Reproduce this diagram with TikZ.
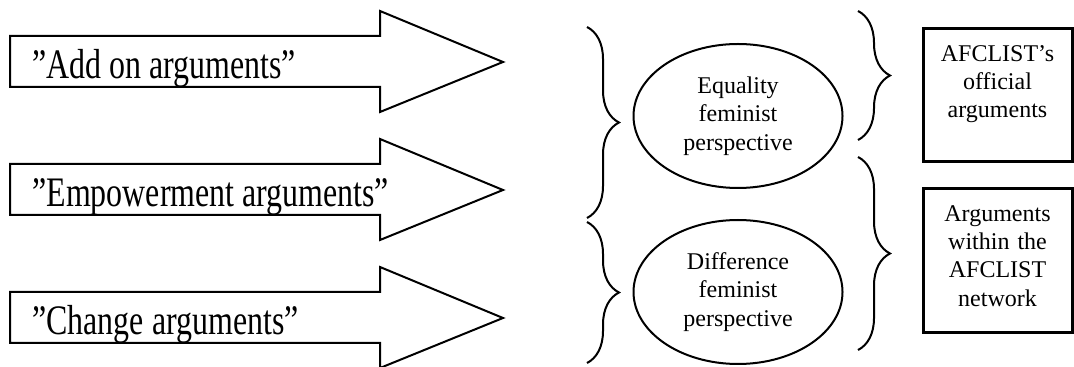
\documentclass[tikz,border=0pt]{standalone}
\usepackage{fontspec}
\setmainfont{Liberation Serif}
\newfontfamily\arrowfont[FakeStretch=0.76]{Liberation Serif}
\usetikzlibrary{shapes.geometric,decorations.pathreplacing}
\tikzset{
  arrowline/.style={draw, line width=1pt, line join=miter},
  arrowtext/.style={anchor=base west, inner sep=0pt, font=\arrowfont\fontsize{21}{25}\selectfont},
  view/.style={ellipse, draw, line width=1pt, minimum width=104.5pt, minimum height=72pt,
    inner sep=0pt, align=center, font=\fontsize{12}{14.3}\selectfont},
  argbox/.style={rectangle, draw, line width=1.5pt, anchor=north, inner sep=0pt,
    text width=74.5pt, align=center, text height=16.5pt, font=\fontsize{12}{14.1}\selectfont},
  brc/.style={decorate, decoration={brace, amplitude=16pt}, line width=1pt}
}

\begin{document}
\begin{tikzpicture}[x=0.5pt, y=-0.5pt]
        \useasboundingbox (0,0) rectangle (1074,367);

        % the three arrows
        \draw[arrowline] (10,36) -- (380,36) -- (380,11) -- (503,62) -- (380,112) -- (380,87) -- (10,87) -- cycle;
        \draw[arrowline] (10,164) -- (380,164) -- (380,139) -- (503,190) -- (380,240) -- (380,215) -- (10,215) -- cycle;
        \draw[arrowline] (10,292) -- (380,292) -- (380,267) -- (503,318) -- (380,368) -- (380,343) -- (10,343) -- cycle;
        \node[arrowtext] (addon) at (32,79) {”Add on arguments”};
        \node[arrowtext] (empower) at (32,207) {”Empowerment arguments”};
        \node[arrowtext] (change) at (32,335) {”Change arguments”};

        % perspectives
        \draw[brc] (587,27) -- (587,218);
        \draw[brc] (587,222) -- (587,363);
        \node[view] (equality) at (738,116) {Equality\\feminist\\perspective};
        \node[view] (difference) at (738,292) {Difference\\feminist\\perspective};

        % levels
        \draw[brc] (858,11) -- (858,140);
        \draw[brc] (858,157) -- (858,350);
        \node[argbox, text depth=50pt] (official) at (997.5,27) {AFCLIST’s\\official\\arguments};
        \node[argbox, text depth=55.5pt] (network) at (997.5,187) {Arguments\\within the\\AFCLIST\\network};
\end{tikzpicture}
\end{document}
